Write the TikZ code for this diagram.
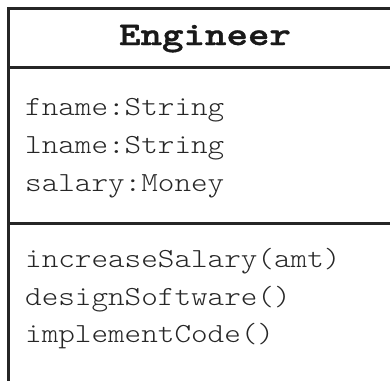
\documentclass[tikz,border=0pt]{standalone}
\usepackage{fontspec}
% light typewriter faces, widened to a Courier-like advance
\newfontfamily\membfont[Extension=.otf, FakeStretch=1.145]{lmmonolt10-regular}
\newfontfamily\namefont[Extension=.otf, FakeStretch=1.24, FakeBold=1.2]{lmmonolt10-bold}
\begin{document}
\begin{tikzpicture}[x=1pt,y=-1pt,
  frame/.style={draw=black!85, line width=3pt},
  member/.style={anchor=base west, inner sep=0pt, text=black!85,
    font=\membfont\fontsize{27.6}{30}\selectfont},
  title/.style={anchor=base, inner sep=0pt, text=black!90,
    font=\namefont\fontsize{33}{36}\selectfont}]
\useasboundingbox (0,0) rectangle (390,380);
% class box: outer edges run past the page on the right and bottom
\coordinate (tl) at (8.5,8.5);
\coordinate (tr) at (392,8.5);
\coordinate (bl) at (8.5,382);
\draw[frame] (tr) -- (tl) -- (bl);
\coordinate (d1l) at (8.5,67);
\coordinate (d1r) at (392,67);
\coordinate (d2l) at (8.5,223);
\coordinate (d2r) at (392,223);
\draw[frame] (d1l) -- (d1r);
\draw[frame] (d2l) -- (d2r);
% name compartment
\node[title] (name) at (205,45) {Engineer};
% attributes
\node[member] (a1) at (25,115) {fname:String};
\node[member] (a2) at (25,153.3) {lname:String};
\node[member] (a3) at (25,191.6) {salary:Money};
% operations
\node[member] (m1) at (25,267.3) {increaseSalary(amt)};
\node[member] (m2) at (25,305) {designSoftware()};
\node[member] (m3) at (25,342.5) {implementCode()};
\end{tikzpicture}
\end{document}
